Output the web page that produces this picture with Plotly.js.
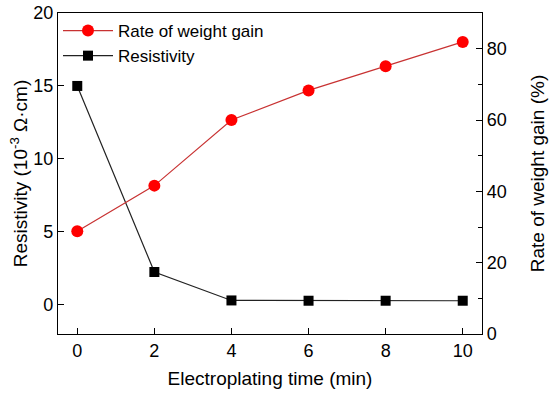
<!DOCTYPE html>
<html>
<head>
<meta charset="utf-8">
<script src="https://cdn.plot.ly/plotly-3.0.1.min.js"></script>
<style>html,body{margin:0;padding:0;background:#fff;}#chart{width:550px;height:396px;}</style>
</head>
<body>
<div id="chart"></div>
<script>
const time = [0, 2, 4, 6, 8, 10];
const weightGain = [28.8, 41.6, 60.0, 68.3, 75.1, 81.9];
const resistivity = [15.0, 2.25, 0.3, 0.28, 0.28, 0.28];
const xTicks = [0, 2, 4, 6, 8, 10];
const yTicks = [0, 5, 10, 15, 20];
const y2Ticks = [0, 20, 40, 60, 80];

const font = "Liberation Sans, Arial, sans-serif";

const traces = [
  {
    x: time, y: weightGain, yaxis: 'y2', name: 'Rate of weight gain',
    mode: 'lines+markers',
    line: {color: '#c83232', width: 1.2},
    marker: {symbol: 'circle', size: 12, color: '#ff0000'}
  },
  {
    x: time, y: resistivity, yaxis: 'y', name: 'Resistivity',
    mode: 'lines+markers',
    line: {color: '#222222', width: 1.2},
    marker: {symbol: 'square', size: 10, color: '#000000'}
  }
];

const layout = {
  width: 550, height: 396,
  margin: {l: 58, r: 68, t: 13, b: 62},
  paper_bgcolor: '#fff', plot_bgcolor: '#fff',
  font: {family: font, size: 17, color: '#000'},
  showlegend: true,
  legend: {x: 0.0, y: 1.0, xanchor: 'left', yanchor: 'top', bgcolor: 'rgba(0,0,0,0)',
           font: {family: font, size: 17}, tracegroupgap: 0, itemwidth: 50},
  xaxis: {
    range: [-0.5, 10.5], tickvals: xTicks, ticktext: xTicks.map(String),
    ticks: 'inside', ticklen: 6, tickwidth: 1, tickcolor: '#000',
    showline: true, linecolor: '#000', linewidth: 1.2, mirror: true,
    showgrid: false, zeroline: false,
    tickfont: {family: font, size: 18},
    title: {text: 'Electroplating time (min)', font: {family: font, size: 19}, standoff: 12}
  },
  yaxis: {
    range: [-2, 20], tickvals: yTicks, ticktext: yTicks.map(String),
    ticks: 'inside', ticklen: 6, tickwidth: 1, tickcolor: '#000',
    showline: true, linecolor: '#000', linewidth: 1.2,
    showgrid: false, zeroline: false,
    tickfont: {family: font, size: 18},
    title: {text: 'Resistivity (10<sup>-3</sup> Ω·cm)', font: {family: font, size: 19}, standoff: 0}
  },
  yaxis2: {
    overlaying: 'y', side: 'right',
    range: [0, 90], tickvals: y2Ticks, ticktext: y2Ticks.map(String),
    ticks: 'inside', ticklen: 6, tickwidth: 1, tickcolor: '#000',
    minor: {tickvals: [10, 30, 50, 70], ticks: 'inside', ticklen: 4, tickcolor: '#000'},
    showline: true, linecolor: '#000', linewidth: 1.2,
    showgrid: false, zeroline: false,
    tickfont: {family: font, size: 18},
    title: {text: 'Rate of weight gain (%)', font: {family: font, size: 19}, standoff: 24}
  }
};

Plotly.newPlot('chart', traces, layout, {displayModeBar: false, staticPlot: true});
</script>
</body>
</html>
